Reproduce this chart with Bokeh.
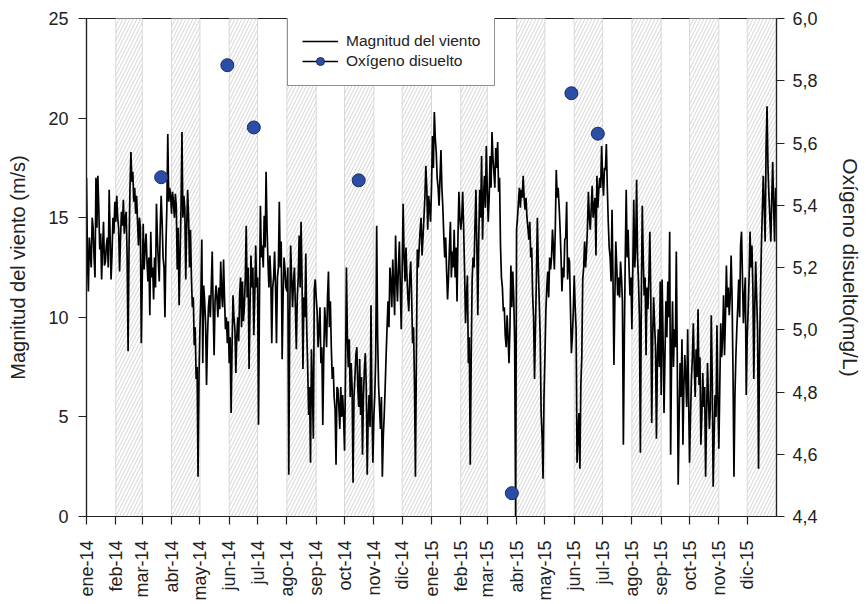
import numpy as np
from datetime import datetime
from bokeh.plotting import figure
from bokeh.models import (Range1d, LinearAxis, FixedTicker, CustomJSTickFormatter,
                          Legend, LegendItem, ColumnDataSource)
from bokeh.embed import file_html
from bokeh.resources import INLINE

# ---------------- data: daily wind magnitude (m/s), one list per month ----------------
w_2014_01 = [17.0, 13.0, 11.3, 14.0, 13.2, 12.5, 15.0, 14.5, 13.0, 12.0, 17.0, 14.5, 17.1, 15.5, 13.4, 14.2,
             11.9, 13.5, 14.8, 12.6, 12.8, 13.6, 14.0, 12.5, 16.4, 14.0, 11.9, 13.2, 15.0, 14.2, 15.8]
w_2014_02 = [14.8, 16.1, 15.0, 14.5, 12.3, 14.0, 15.3, 14.6, 15.9, 14.2, 15.0, 15.3, 13.0, 8.3, 13.5, 16.5,
             18.3, 16.8, 17.3, 15.8, 16.5, 15.2, 16.1, 14.8, 13.6, 15.0, 14.5, 8.7]
w_2014_03 = [12.0, 14.7, 12.4, 13.5, 14.2, 12.8, 11.8, 13.0, 10.1, 14.3, 12.0, 12.5, 10.9, 13.0, 11.5, 15.7,
             14.0, 12.8, 11.8, 14.5, 16.1, 14.8, 13.0, 12.5, 10.0, 13.5, 15.5, 19.2, 15.8, 16.5, 16.1]
w_2014_04 = [15.2, 16.3, 15.8, 15.0, 16.2, 15.6, 12.4, 14.5, 10.6, 13.0, 15.5, 19.3, 15.0, 16.1, 15.5, 11.9,
             14.5, 16.4, 15.0, 12.5, 14.4, 12.0, 10.5, 11.0, 8.6, 9.5, 6.9, 7.5, 2.0, 7.0]
w_2014_05 = [9.4, 11.0, 13.9, 7.7, 11.6, 10.8, 9.7, 6.6, 9.0, 10.5, 11.1, 10.0, 11.5, 13.3, 10.5, 8.1,
             10.8, 11.6, 11.0, 10.0, 11.5, 10.4, 12.8, 11.2, 10.5, 12.9, 11.0, 9.4, 10.0, 8.7, 9.8]
w_2014_06 = [7.7, 9.0, 5.2, 8.5, 11.1, 10.0, 9.4, 7.2, 9.0, 10.0, 8.8, 11.1, 12.0, 9.5, 11.8, 9.8,
             10.5, 12.0, 14.6, 11.0, 12.5, 7.4, 10.5, 13.1, 11.5, 12.5, 9.1, 11.0, 13.6, 11.5]
w_2014_07 = [12.0, 4.6, 11.0, 15.6, 13.0, 13.6, 12.5, 15.1, 13.5, 17.3, 14.5, 12.8, 11.5, 13.1, 12.0, 8.7,
             11.5, 12.0, 13.3, 11.5, 8.7, 12.0, 12.5, 15.8, 12.5, 13.8, 7.9, 11.0, 13.0, 12.4, 11.5]
w_2014_08 = [11.3, 12.5, 2.1, 10.0, 13.6, 12.0, 10.5, 11.8, 12.5, 10.5, 8.4, 11.0, 12.0, 14.1, 11.5, 14.8,
             12.0, 7.4, 11.0, 10.0, 13.2, 9.4, 7.5, 5.1, 6.5, 2.7, 8.4, 6.5, 3.9, 11.4, 11.9]
w_2014_09 = [11.0, 10.3, 8.5, 9.4, 10.5, 7.7, 8.5, 4.6, 8.0, 10.5, 9.6, 8.5, 11.0, 12.3, 9.5, 10.8,
             8.5, 6.9, 7.5, 6.0, 5.4, 2.6, 6.5, 6.4, 5.5, 4.4, 6.5, 5.0, 6.1, 5.0]
w_2014_10 = [3.3, 7.0, 12.5, 9.0, 7.5, 8.9, 6.0, 7.7, 6.5, 1.7, 6.0, 7.0, 8.1, 8.5, 6.5, 5.5,
             7.9, 5.1, 7.0, 3.1, 6.0, 7.4, 8.2, 6.5, 2.1, 5.0, 6.1, 4.5, 10.6, 5.5, 2.7]
w_2014_11 = [5.0, 6.1, 8.0, 14.6, 9.0, 6.6, 5.5, 4.4, 6.0, 2.0, 4.0, 5.1, 6.5, 8.1, 9.5, 10.8,
             9.5, 12.5, 11.8, 10.5, 12.9, 11.5, 10.1, 14.1, 12.0, 10.8, 12.5, 13.8, 11.5, 9.4]
w_2014_12 = [12.5, 15.7, 13.0, 11.8, 13.5, 12.1, 11.0, 10.3, 12.0, 12.8, 11.0, 8.7, 9.5, 6.7, 2.0, 8.0,
             13.4, 12.5, 13.5, 14.4, 15.0, 13.1, 14.0, 15.0, 16.0, 17.6, 16.5, 14.4, 16.1, 15.5, 14.8]
w_2015_01 = [16.5, 19.1, 17.5, 20.3, 19.0, 18.3, 17.0, 16.5, 15.6, 17.0, 18.4, 16.5, 15.5, 14.1, 13.0, 14.0,
             12.3, 10.9, 12.0, 13.5, 14.8, 12.0, 13.3, 12.5, 14.4, 12.0, 13.5, 10.8, 14.0, 16.3, 15.0]
w_2015_02 = [14.4, 15.0, 16.3, 14.5, 12.3, 9.7, 11.0, 12.1, 7.7, 9.0, 2.6, 8.0, 11.9, 13.0, 12.5, 14.6,
             16.4, 13.5, 10.1, 14.0, 16.4, 15.0, 18.1, 13.9, 16.0, 17.1, 15.5, 18.6]
w_2015_03 = [16.5, 14.8, 16.0, 18.1, 16.5, 19.3, 18.0, 17.3, 16.5, 18.5, 17.5, 18.8, 16.3, 17.0, 13.6, 12.0,
             11.5, 10.3, 10.5, 9.1, 8.5, 10.1, 9.0, 7.7, 9.5, 12.6, 10.5, 12.3, 11.0, 8.7, 0.0]
w_2015_04 = [14.4, 15.0, 15.8, 16.5, 15.5, 16.4, 16.0, 17.1, 16.0, 15.4, 16.0, 15.0, 14.5, 13.9, 14.8, 13.0,
             13.5, 11.1, 10.0, 6.9, 9.5, 12.0, 15.0, 12.5, 10.8, 9.0, 5.2, 4.0, 1.9, 6.0]
w_2015_05 = [8.0, 10.3, 11.5, 12.3, 11.0, 13.0, 12.4, 13.0, 14.4, 13.5, 12.4, 14.5, 17.4, 16.0, 16.5, 15.6,
             14.5, 13.1, 11.3, 12.5, 12.0, 13.9, 14.0, 15.8, 11.9, 13.0, 12.8, 10.5, 8.2, 9.0, 10.3]
w_2015_06 = [12.1, 10.5, 9.4, 2.7, 4.0, 5.2, 2.4, 6.6, 8.0, 11.9, 12.5, 13.8, 12.5, 13.3, 14.5, 16.3,
             15.0, 14.4, 15.5, 16.6, 15.0, 15.6, 16.0, 13.1, 17.1, 15.5, 16.4, 17.0, 16.5, 18.6]
w_2015_07 = [17.0, 16.1, 17.5, 17.4, 18.7, 16.5, 14.8, 13.5, 13.0, 11.8, 15.4, 12.0, 7.6, 11.0, 13.8, 12.5,
             11.1, 12.0, 11.0, 12.8, 12.0, 10.8, 3.6, 9.0, 13.0, 16.4, 13.0, 14.4, 12.5, 11.1, 12.0]
w_2015_08 = [9.4, 12.5, 15.9, 12.5, 13.5, 16.9, 13.0, 11.8, 10.0, 3.2, 11.0, 15.6, 13.0, 11.1, 12.0, 8.1,
             11.5, 10.4, 12.0, 14.3, 11.0, 4.7, 9.0, 11.0, 9.7, 8.5, 3.9, 8.0, 9.4, 7.5, 11.8]
w_2015_09 = [6.1, 11.9, 9.0, 5.2, 8.0, 10.8, 9.0, 11.8, 10.0, 14.3, 3.1, 8.0, 10.8, 7.5, 9.4, 8.5,
             13.3, 8.0, 1.6, 5.0, 7.7, 6.0, 8.9, 3.6, 6.5, 8.1, 7.0, 5.5, 9.4, 6.0]
w_2015_10 = [2.7, 5.0, 6.9, 8.0, 9.7, 7.5, 6.0, 8.4, 7.0, 10.4, 6.6, 8.0, 3.6, 5.0, 7.2, 5.5,
             6.5, 2.0, 5.0, 7.7, 6.0, 4.4, 5.5, 10.1, 7.0, 1.5, 4.0, 6.1, 5.0, 9.6, 6.0]
w_2015_11 = [3.4, 6.5, 9.7, 8.0, 9.0, 11.1, 8.1, 10.0, 12.6, 10.5, 11.5, 10.1, 11.0, 13.1, 11.0, 7.2,
             2.0, 6.0, 8.0, 9.4, 10.5, 11.9, 10.0, 13.6, 14.3, 12.0, 9.7, 11.0, 12.0, 6.1]
w_2015_12 = [9.0, 10.3, 12.0, 14.3, 12.5, 13.6, 11.5, 6.9, 10.5, 12.8, 11.0, 9.4, 2.4, 8.0, 11.1, 13.5,
             15.3, 17.1, 15.5, 13.8, 18.6, 20.6, 17.5, 16.1, 15.0, 13.8, 16.0, 17.8, 15.5, 13.8, 16.5]

month_start = ["2014-01-01", "2014-02-01", "2014-03-01", "2014-04-01", "2014-05-01", "2014-06-01",
               "2014-07-01", "2014-08-01", "2014-09-01", "2014-10-01", "2014-11-01", "2014-12-01",
               "2015-01-01", "2015-02-01", "2015-03-01", "2015-04-01", "2015-05-01", "2015-06-01",
               "2015-07-01", "2015-08-01", "2015-09-01", "2015-10-01", "2015-11-01", "2015-12-01"]
month_label = ["ene-14", "feb-14", "mar-14", "abr-14", "may-14", "jun-14",
               "jul-14", "ago-14", "sep-14", "oct-14", "nov-14", "dic-14",
               "ene-15", "feb-15", "mar-15", "abr-15", "may-15", "jun-15",
               "jul-15", "ago-15", "sep-15", "oct-15", "nov-15", "dic-15"]
wind_months = [w_2014_01, w_2014_02, w_2014_03, w_2014_04, w_2014_05, w_2014_06,
               w_2014_07, w_2014_08, w_2014_09, w_2014_10, w_2014_11, w_2014_12,
               w_2015_01, w_2015_02, w_2015_03, w_2015_04, w_2015_05, w_2015_06,
               w_2015_07, w_2015_08, w_2015_09, w_2015_10, w_2015_11, w_2015_12]

oxygen_date = ["2014-03-21", "2014-05-30", "2014-06-27", "2014-10-16",
               "2015-03-27", "2015-05-29", "2015-06-26"]
oxygen_mgl = [5.49, 5.85, 5.65, 5.48, 4.475, 5.76, 5.63]

band_start = ["2014-02-01", "2014-04-01", "2014-06-01", "2014-08-01", "2014-10-01", "2014-12-01",
              "2015-02-01", "2015-04-01", "2015-06-01", "2015-08-01", "2015-10-01", "2015-12-01"]
band_end = ["2014-03-01", "2014-05-01", "2014-07-01", "2014-09-01", "2014-11-01", "2015-01-01",
            "2015-03-01", "2015-05-01", "2015-07-01", "2015-09-01", "2015-11-01", "2016-01-01"]

left_ticks = [0, 5, 10, 15, 20, 25]
right_ticks = [4.4, 4.6, 4.8, 5.0, 5.2, 5.4, 5.6, 5.8, 6.0]

# ---------------- build ----------------
FONT = "Liberation Sans"
TXT = "#222222"

wind_x, wind_y = [], []
for ms, vals in zip(month_start, wind_months):
    wind_x.append(np.datetime64(ms) + np.arange(len(vals)).astype("timedelta64[D]"))
    wind_y.extend(vals)
wind_src = ColumnDataSource(dict(x=np.concatenate(wind_x), y=wind_y))
ox_src = ColumnDataSource(dict(x=np.array(oxygen_date, dtype="datetime64[D]"), y=oxygen_mgl))
band_src = ColumnDataSource(dict(left=np.array(band_start, dtype="datetime64[D]"),
                                 right=np.array(band_end, dtype="datetime64[D]"),
                                 bottom=[0] * len(band_start), top=[25] * len(band_start)))

p = figure(frame_width=690, frame_height=498, x_axis_type="datetime",
           x_range=Range1d(datetime(2014, 1, 1), datetime(2016, 1, 1)),
           y_range=Range1d(0, 25), output_backend="svg", toolbar_location=None,
           min_border_left=86, min_border_right=80, min_border_top=18, min_border_bottom=80)
p.extra_y_ranges = {"ox": Range1d(4.4, 6.0)}
p.xgrid.visible = False
p.ygrid.visible = False
p.outline_line_color = TXT
p.outline_line_width = 1.2
p.background_fill_color = "white"

p.quad(left="left", right="right", bottom="bottom", top="top", source=band_src,
       fill_color=None, line_color="#d8d8d8", line_width=1,
       hatch_pattern="/", hatch_color="#cfcfcf", hatch_scale=7, hatch_weight=0.9)

wind_r = p.line("x", "y", source=wind_src, line_color="black", line_width=1.7)
ox_dummy = p.line(x=[datetime(2014, 1, 1)], y=[float("nan")], line_color="black",
                  line_width=1.7, y_range_name="ox")
ox_r = p.scatter("x", "y", source=ox_src, y_range_name="ox", size=13, marker="circle",
                 fill_color="#2a4ea6", line_color="#1b2c5e", line_width=1)

ms_ticks = np.array(month_start, dtype="datetime64[ms]").astype("int64").tolist()
xa = p.xaxis[0]
xa.ticker = FixedTicker(ticks=ms_ticks)
xa.formatter = CustomJSTickFormatter(args=dict(tick_ms=ms_ticks, tick_text=month_label), code="""
    let best = 0, bd = Infinity;
    for (let i = 0; i < tick_ms.length; i++) {
        const d = Math.abs(tick_ms[i] - tick);
        if (d < bd) { bd = d; best = i; }
    }
    return tick_text[best];
""")
xa.major_label_orientation = np.pi / 2
xa.major_label_standoff = 16

ya = p.yaxis[0]
ya.ticker = FixedTicker(ticks=left_ticks)
ya.axis_label = "Magnitud del viento (m/s)"
ya.major_label_standoff = 10
ya.axis_label_standoff = 16

ra = LinearAxis(y_range_name="ox", ticker=FixedTicker(ticks=right_ticks),
                formatter=CustomJSTickFormatter(code="return tick.toFixed(1).replace('.', ',');"),
                axis_label="Oxígeno disuelto(mg/L)")
ra.major_label_standoff = 8
ra.axis_label_standoff = 18
p.add_layout(ra, "right")

for ax in [xa, ya, ra]:
    ax.axis_line_color = TXT
    ax.axis_line_width = 1.2
    ax.major_tick_line_color = TXT
    ax.major_tick_line_width = 1.2
    ax.major_tick_out = 8
    ax.major_tick_in = 0
    ax.minor_tick_line_color = None
    ax.major_label_text_font = FONT
    ax.major_label_text_font_size = "18px"
    ax.major_label_text_color = TXT
    ax.axis_label_text_font = FONT
    ax.axis_label_text_font_size = "20px"
    ax.axis_label_text_font_style = "normal"
    ax.axis_label_text_color = TXT
ra.axis_label_text_font_size = "21px"

legend = Legend(items=[LegendItem(label="Magnitud del viento", renderers=[wind_r]),
                       LegendItem(label="Oxígeno disuelto", renderers=[ox_dummy, ox_r])],
                location=(201, 430))
legend.border_line_color = TXT
legend.border_line_width = 1.2
legend.background_fill_color = "white"
legend.background_fill_alpha = 1
legend.label_text_font = FONT
legend.label_text_font_size = "15.5px"
legend.label_text_color = TXT
legend.glyph_width = 36
legend.glyph_height = 20
legend.label_height = 20
legend.label_standoff = 8
legend.padding = 14
legend.spacing = 0
legend.margin = 0
p.add_layout(legend)

open("out.html", "w").write(file_html(p, INLINE))
